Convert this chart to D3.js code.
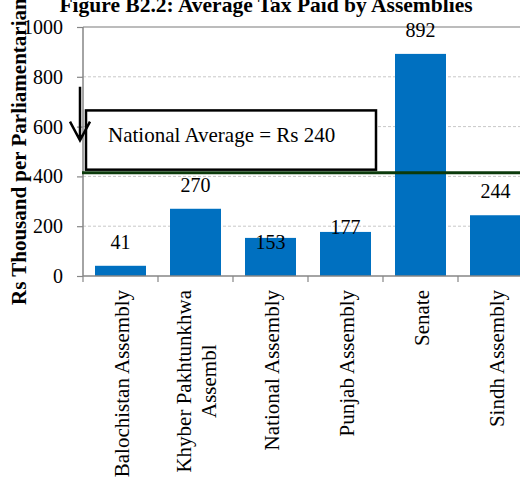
<!DOCTYPE html>
<html>
  <head>
    <meta charset="utf-8">
    <title>Average Tax Paid by Assemblies</title>
    <script src="https://d3js.org/d3.v7.min.js"></script>
    <style>
      body { margin: 0; background: #fff; }
      svg { font-family: "Liberation Serif", "Times New Roman", serif; }
    </style>
  </head>
  <body>
    <svg id="svg" width="520" height="479"></svg>
    <script>
      // data
      var categories = ["Balochistan Assembly", "Khyber Pakhtunkhwa|Assembl", "National Assembly",
                        "Punjab Assembly", "Senate", "Sindh Assembly"];
      var values = [41, 270, 153, 177, 892, 244];
      var yTicks = [0, 200, 400, 600, 800, 1000];
      var avgLine = 415;
      var avgText = "National Average = Rs 240";
      // label tweaks (px) - some labels sit lower in the original
      var labelNudge = [0, 0, 28, 19, 0, 0];

      var svg = d3.select("#svg");
      var plotLeft = 83, plotRight = 533, plotTop = 27, plotBottom = 276;

      var x = d3.scaleBand()
        .domain(categories)
        .range([plotLeft, plotRight])
        .paddingInner(0.32)
        .paddingOuter(0.16);
      var y = d3.scaleLinear()
        .domain([0, 1000])
        .range([plotBottom, plotTop]);

      // gridlines
      svg.append("g")
        .selectAll("line")
          .data(yTicks.filter(function(d) { return d > 0; }))
        .enter().append("line")
          .attr("x1", plotLeft).attr("x2", 520)
          .attr("y1", function(d) { return y(d); })
          .attr("y2", function(d) { return y(d); })
          .attr("stroke", function(d) { return d == 1000 ? "#a6a6a6" : "#c8c8c8"; })
          .attr("stroke-width", function(d) { return d == 1000 ? 1.5 : 1; })
          .attr("stroke-dasharray", function(d) { return d == 1000 ? null : "3,2"; });

      // bars
      svg.append("g")
        .selectAll("rect")
          .data(values)
        .enter().append("rect")
          .attr("x", function(d, i) { return x(categories[i]); })
          .attr("width", x.bandwidth())
          .attr("y", function(d) { return y(d); })
          .attr("height", function(d) { return plotBottom - y(d); })
          .attr("fill", "#0070c0");

      // y axis
      var yAxis = svg.append("g")
        .attr("transform", "translate(" + plotLeft + ",0)")
        .call(d3.axisLeft(y).tickValues(yTicks).tickSize(6).tickPadding(14).tickFormat(d3.format("d")));
      yAxis.select(".domain").attr("stroke", "#868686").attr("stroke-width", 1.5).attr("d", "M0," + plotTop + "V" + plotBottom);
      yAxis.selectAll(".tick line").attr("stroke", "#868686").attr("stroke-width", 1.2);
      yAxis.selectAll(".tick text")
        .attr("fill", "#000")
        .style("font-family", "Liberation Serif, serif")
        .style("font-size", "20px");

      // x axis line and ticks at band boundaries
      svg.append("line")
        .attr("x1", plotLeft).attr("x2", 520)
        .attr("y1", plotBottom).attr("y2", plotBottom)
        .attr("stroke", "#868686").attr("stroke-width", 1.5);
      svg.append("g")
        .selectAll("line")
          .data(d3.range(categories.length + 1))
        .enter().append("line")
          .attr("x1", function(i) { return plotLeft + i * x.step(); })
          .attr("x2", function(i) { return plotLeft + i * x.step(); })
          .attr("y1", plotBottom).attr("y2", plotBottom + 6)
          .attr("stroke", "#868686").attr("stroke-width", 1.2);

      // category labels, rotated
      categories.forEach(function(c, i) {
        var lines = c.split("|");
        var cx = x(c) + x.bandwidth() / 2 + 1;
        var g = svg.append("g");
        var texts = lines.map(function(l) {
          return g.append("text")
            .attr("text-anchor", "middle")
            .style("font-size", "21px")
            .text(l);
        });
        var maxW = d3.max(texts, function(t) { return t.node().getComputedTextLength(); });
        var lh = 25;
        texts.forEach(function(t, j) {
          var lx = cx + (j - (lines.length - 1) / 2) * lh + 7;
          var ly = 290 + maxW / 2;
          t.attr("transform", "translate(" + lx + "," + ly + ") rotate(-90)");
        });
      });

      // average line
      svg.append("line")
        .attr("x1", plotLeft - 1).attr("x2", 520)
        .attr("y1", y(avgLine)).attr("y2", y(avgLine))
        .attr("stroke", "#0b3a0b").attr("stroke-width", 3);

      // value labels
      svg.append("g")
        .selectAll("text")
          .data(values)
        .enter().append("text")
          .attr("x", function(d, i) { return x(categories[i]) + x.bandwidth() / 2; })
          .attr("y", function(d, i) { return y(d) - 17 + labelNudge[i]; })
          .attr("text-anchor", "middle")
          .style("font-size", "20px")
          .text(function(d) { return d; });

      // annotation box
      svg.append("rect")
        .attr("x", 86).attr("y", y(665))
        .attr("width", 290).attr("height", y(427) - y(665))
        .attr("fill", "#fff").attr("stroke", "#000").attr("stroke-width", 2.5);
      svg.append("text")
        .attr("x", 108).attr("y", y(540))
        .style("font-size", "21px")
        .text(avgText);

      // arrow
      svg.append("path")
        .attr("d", "M80," + y(760) + "V" + y(545) + "M70," + y(620) + "L80," + y(545) + "L90," + y(620))
        .attr("fill", "none").attr("stroke", "#000").attr("stroke-width", 2.5);

      // title
      svg.append("text")
        .attr("x", 266).attr("y", 12)
        .attr("text-anchor", "middle")
        .style("font-size", "21.5px").style("font-weight", "bold")
        .text("Figure B2.2: Average Tax Paid by Assemblies");

      // y axis label
      svg.append("text")
        .attr("transform", "translate(26,305) rotate(-90)")
        .style("font-size", "21px").style("font-weight", "bold")
        .text("Rs Thousand per Parliamentarian");
    </script>
  </body>
</html>
